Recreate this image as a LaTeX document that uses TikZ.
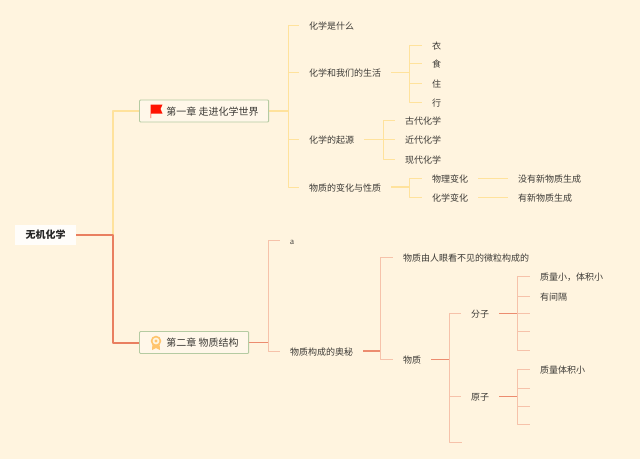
\documentclass[tikz,border=0pt]{standalone}
\usepackage{fontspec}
\setmainfont{Noto Sans CJK SC}
\newfontfamily\latinfont{Liberation Serif}
\definecolor{paper}{HTML}{FFF4DF}
\definecolor{ink}{HTML}{3C3A36}
\definecolor{yline}{HTML}{FFE29C}
\definecolor{rline}{HTML}{F6C2AA}
\definecolor{rtrunk}{HTML}{E97F60}
\definecolor{boxline}{HTML}{B5CBA2}
\begin{document}
\begin{tikzpicture}[x=1pt,y=-1pt,line join=round,
	topic/.style={anchor=west,inner xsep=10pt,inner ysep=0pt,text height=9.5pt,text depth=1pt,text=ink,font=\fontsize{9}{11}\selectfont},
	chapter/.style={anchor=west,draw=boxline,line width=.9pt,fill=paper!70!white,rounded corners=1pt,minimum height=22pt,inner xsep=10pt,inner ysep=0pt,text height=9.5pt,text depth=1pt,text=ink,font=\fontsize{10}{12}\selectfont},
	ybranch/.style={draw=yline,line width=1pt},
	yparent/.style={draw=yline,line width=1.6pt},
	rbranch/.style={draw=rline,line width=1pt},
	rparent/.style={draw=rtrunk!80!rline,line width=1.2pt}]
	\fill[paper] (0,0) rectangle (640,459);
	\useasboundingbox (0,0) rectangle (640,459);
	\node[fill=white!85!paper,minimum width=61pt,minimum height=20pt,inner sep=0pt,text height=9.5pt,text depth=1pt,text=black!85,font=\fontsize{10}{12}\selectfont\bfseries] (root) at (45.5,234.5) {无机化学};
	\node[chapter] (ch1) at (139,111) {\hspace*{17pt}第一章 走进化学世界};
	\node[chapter] (ch2) at (139,342.5) {\hspace*{17pt}第二章 物质结构};
	\coordinate (tr) at (113,234.5);
	\draw[draw=yline,line width=1.3pt] (tr) |- (ch1.west);
	\draw[draw=rtrunk,line width=2pt] (root.east) -- (tr) |- (ch2.west);
	\fill[red!85!orange] (150.5,104.5) -- (162.5,104.5) -- (160.5,109) -- (162.5,113.5) -- (151,113.5) -- (151,118) -- (150.5,118) -- cycle;
	\fill[yline!70!orange] (152.5,343) -- (152,350) -- (156,348) -- (160,350) -- (159.5,343) -- cycle;
	\fill[yline!70!orange] (156,341) circle (5.3pt);
	\fill[paper] (156,341) circle (3.4pt);
	\fill[yline!70!orange] (156,341) circle (1.7pt);

	\node[topic] (what) at (299,25) {化学是什么};
	\node[topic] (life) at (299,72.5) {化学和我们的生活};
	\node[topic] (origin) at (299,139.5) {化学的起源};
	\node[topic] (change) at (299,187) {物质的变化与性质};
	\coordinate (s1) at (288,111);
	\draw[yparent] (ch1.east) -- (s1);
	\foreach \c in {what,life,origin,change} \draw[ybranch] (s1) |- (\c.west);

	\node[topic] (yi) at (422,45) {衣};
	\node[topic] (shi) at (422,63.5) {食};
	\node[topic] (zhu) at (422,83) {住};
	\node[topic] (xing) at (422,102) {行};
	\coordinate (s2) at (409,72.5);
	\draw[yparent] (life.east) -- (s2);
	\foreach \c in {yi,shi,zhu,xing} \draw[ybranch] (s2) |- (\c.west);

	\node[topic] (gu) at (395,120.5) {古代化学};
	\node[topic] (jin) at (395,139.5) {近代化学};
	\node[topic] (xian) at (395,159) {现代化学};
	\coordinate (s3) at (383,139.5);
	\draw[yparent] (origin.east) -- (s3);
	\foreach \c in {gu,jin,xian} \draw[ybranch] (s3) |- (\c.west);

	\node[topic] (phys) at (422,178) {物理变化};
	\node[topic] (chem) at (422,197) {化学变化};
	\coordinate (s4) at (409,187);
	\draw[yparent] (change.east) -- (s4);
	\foreach \c in {phys,chem} \draw[ybranch] (s4) |- (\c.west);
	\node[topic] (nonew) at (508,178) {没有新物质生成};
	\node[topic] (new) at (508,197) {有新物质生成};
	\draw[ybranch] (phys.east) -- (nonew.west);
	\draw[ybranch] (chem.east) -- (new.west);

	\node[topic] (a) at (280,240) {\latinfont a};
	\node[topic] (secret) at (280,351) {物质构成的奥秘};
	\coordinate (s5) at (268,342.5);
	\draw[rparent] (ch2.east) -- (s5);
	\foreach \c in {a,secret} \draw[rbranch] (s5) |- (\c.west);

	\node[topic] (tiny) at (393,257.5) {物质由人眼看不见的微粒构成的};
	\node[topic] (matter) at (393,359.5) {物质};
	\coordinate (s6) at (380.5,351);
	\draw[rparent] (secret.east) -- (s6);
	\foreach \c in {tiny,matter} \draw[rbranch] (s6) |- (\c.west);

	\node[topic] (mol) at (461,313.5) {分子};
	\node[topic] (atom) at (461,396.5) {原子};
	\coordinate (m3) at (462,442.5);
	\coordinate (s7) at (449,359.5);
	\draw[rparent] (matter.east) -- (s7);
	\foreach \c in {mol.west,atom.west,m3} \draw[rbranch] (s7) |- (\c);

	\node[topic] (small) at (530,276.5) {质量小，体积小};
	\node[topic] (gap) at (530,296) {有间隔};
	\coordinate (g3) at (530,313.5);
	\coordinate (g4) at (530,331.5);
	\coordinate (g5) at (530,350);
	\coordinate (s8) at (517,313.5);
	\draw[rparent] (mol.east) -- (s8);
	\foreach \c in {small.west,gap.west,g3,g4,g5} \draw[rbranch] (s8) |- (\c);

	\node[topic] (asmall) at (530,369.5) {质量体积小};
	\coordinate (h2) at (530,388.5);
	\coordinate (h3) at (530,406);
	\coordinate (h4) at (530,424);
	\coordinate (s9) at (517,396.5);
	\draw[rparent] (atom.east) -- (s9);
	\foreach \c in {asmall.west,h2,h3,h4} \draw[rbranch] (s9) |- (\c);
\end{tikzpicture}
\end{document}
